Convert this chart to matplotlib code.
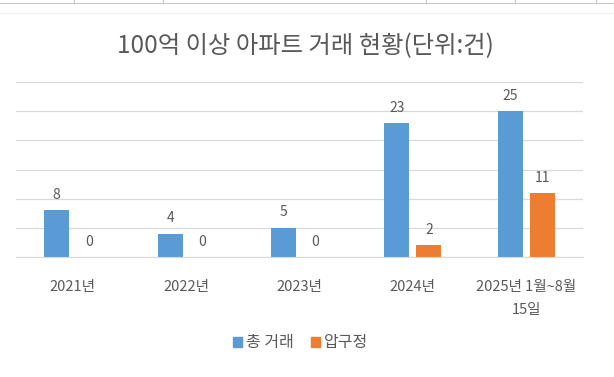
import numpy as np
import matplotlib
matplotlib.use("Agg")
import matplotlib.pyplot as plt
from matplotlib.lines import Line2D
from matplotlib.patches import Patch

plt.rcParams["font.family"] = ["Noto Sans CJK KR", "DejaVu Sans"]

categories = ["2021년", "2022년", "2023년", "2024년", "2025년 1월~8월\n15일"]
total = [8, 4, 5, 23, 25]
apgujeong = [0, 0, 0, 2, 11]
series_names = ["총 거래", "압구정"]
title = "100억 이상 아파트 거래 현황(단위:건)"

BLUE, ORANGE, TXT, GRID = "#5B9BD5", "#ED7D31", "#595959", "#D9D9D9"

fig = plt.figure(figsize=(6.14, 3.77), dpi=100)
ax = fig.add_axes([16 / 614, 1 - 257 / 377, 567 / 614, 175 / 377])

x = np.arange(len(categories))
w, off = 0.22, 0.141
b1 = ax.bar(x - off, total, w, color=BLUE)
b2 = ax.bar(x + off, apgujeong, w, color=ORANGE)
for bars in (b1, b2):
    ax.bar_label(bars, padding=6, fontsize=10, color=TXT)

ax.set_xlim(-0.5, len(categories) - 0.5)
ax.set_ylim(0, 30)
ax.set_yticks(np.arange(0, 31, 5))
ax.yaxis.grid(True, color=GRID, lw=0.9)
ax.set_axisbelow(True)
ax.tick_params(left=False, labelleft=False, bottom=False)
ax.set_xticks(x, categories, fontsize=10.5, color=TXT, linespacing=1.85)
ax.tick_params(axis="x", pad=13)
for s in ("top", "right", "left"):
    ax.spines[s].set_visible(False)
ax.spines["bottom"].set_color(GRID)

fig.text(0.497, 1 - 46 / 377, title, ha="center", va="center",
         fontsize=17.5, color=TXT)

handles = [Patch(color=BLUE), Patch(color=ORANGE)]
fig.legend(handles, series_names, loc="center", ncol=2,
           bbox_to_anchor=(0.49, 1 - 343 / 377), frameon=False,
           fontsize=11.5, labelcolor=TXT, handlelength=0.55, handleheight=0.55,
           handletextpad=0.25, columnspacing=1.1)

# spreadsheet cell borders peeking above the chart
fig.add_artist(Line2D([0, 1], [1 - 3 / 377] * 2, color="#C8C8C8", lw=0.8))
fig.add_artist(Line2D([0, 1], [1 - 13 / 377] * 2, color="#EEEEEE", lw=0.8))
for xv in (74, 163, 426, 515, 596):
    fig.add_artist(Line2D([xv / 614] * 2, [1, 1 - 3 / 377],
                          color="#C8C8C8", lw=0.8))

fig.savefig("out.png", dpi=100)
